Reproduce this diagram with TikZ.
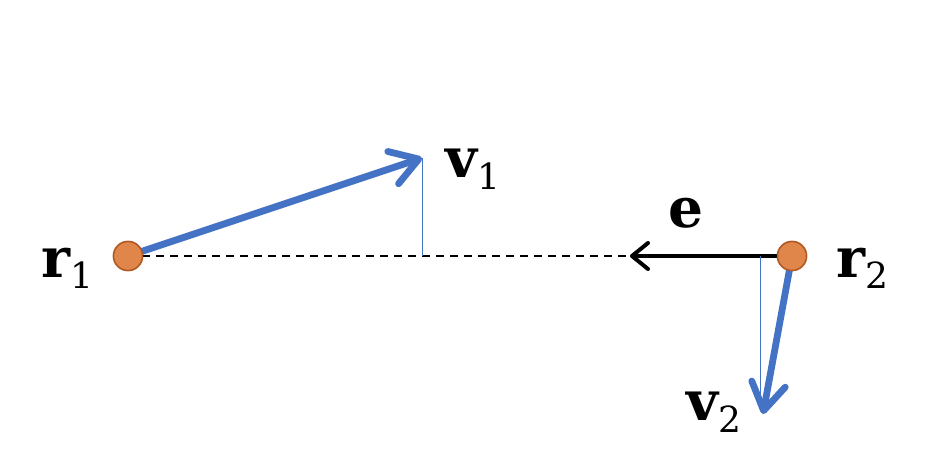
\documentclass[tikz,border=0pt]{standalone}
\usepackage{fontspec}
\newfontfamily\lblfont{DejaVu Serif}
\usetikzlibrary{arrows.meta}
\definecolor{vblue}{HTML}{4472C4}
\definecolor{porange}{HTML}{E0864A}
\definecolor{pedge}{HTML}{B05A26}
\newcommand{\vecsub}[2]{{\bfseries #1}\kern0pt\raisebox{-12pt}{\fontsize{36}{40}\selectfont #2}}
\begin{document}
\begin{tikzpicture}[x=1pt,y=-1pt,
  particle/.style={circle,fill=porange,draw=pedge,line width=1.5pt,minimum size=29pt,inner sep=0pt},
  velarrow/.style={draw=vblue,line width=6.8pt,-{Straight Barb[length=27pt,width=34pt,round]}},
  proj/.style={draw=vblue,line width=0.9pt},
  lbl/.style={inner sep=0pt,anchor=base west,font=\lblfont\fontsize{55}{62}\selectfont}]
\useasboundingbox (0,0) rectangle (926,462);
\coordinate (v1tip) at (422,158);
\coordinate (v1foot) at (422,256);
\coordinate (etip) at (630,256);
\coordinate (v2tip) at (763,414);
\coordinate (v2top) at (760,256);
\coordinate (v2bot) at (760,400);
\node[particle] (r1) at (128,256) {};
\node[particle] (r2) at (792,256) {};
\draw[dashed,line width=1.6pt,dash pattern=on 8pt off 6pt] (r1.center) -- (etip);
\draw[line width=4pt,-{Straight Barb[length=16pt,width=26pt,round]}] (r2.center) -- (etip);
\draw[proj] (v1tip) -- (v1foot);
\draw[proj] (v2top) -- (v2bot);
\draw[velarrow] (r1.center) -- (v1tip);
\draw[velarrow] (r2.center) -- (v2tip);
\node[particle] (r1b) at (r1) {};
\node[particle] (r2b) at (r2) {};
\node[lbl] (lr1) at (41,277) {\vecsub{r}{1}};
\node[lbl] (lv1) at (445,178) {\vecsub{v}{1}};
\node[lbl] (le) at (668,228) {\bfseries e};
\node[lbl] (lr2) at (836,277) {\vecsub{r}{2}};
\node[lbl] (lv2) at (686,420) {\vecsub{v}{2}};
\end{tikzpicture}
\end{document}
